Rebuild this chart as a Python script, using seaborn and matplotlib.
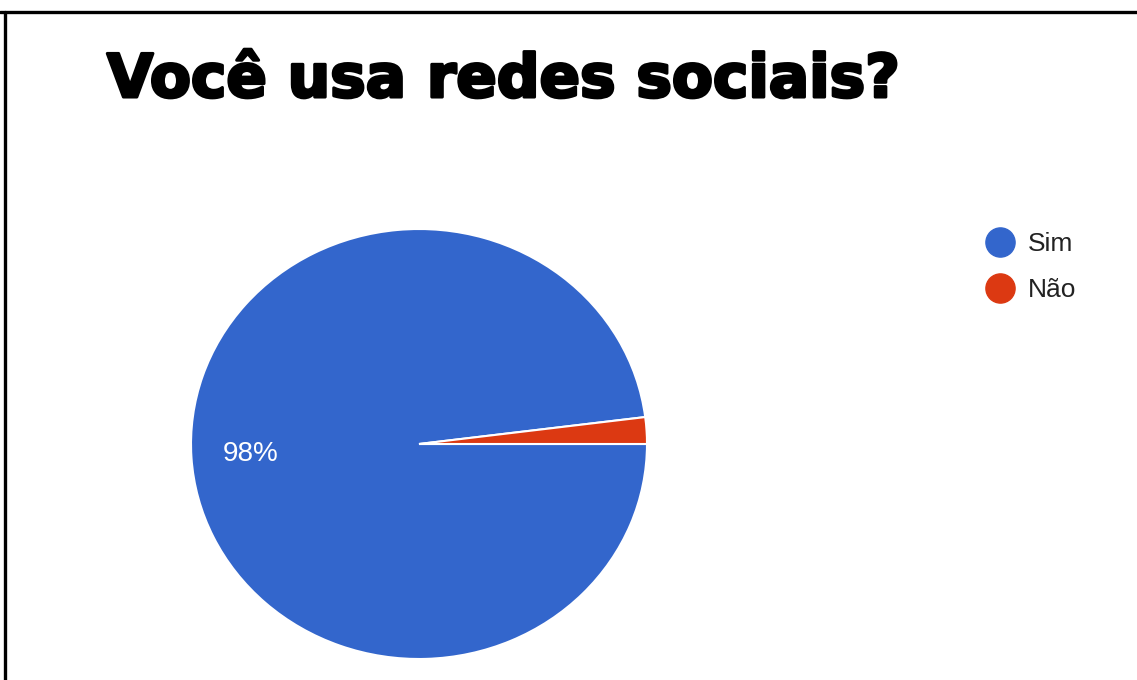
import matplotlib
matplotlib.use("Agg")
import matplotlib.pyplot as plt
from matplotlib.lines import Line2D
import matplotlib.patheffects as pe
import seaborn as sns

# Survey answers
answers = ["Sim", "Não"]
counts = [98, 2]
title = "Você usa redes sociais?"

sns.set_theme(style="white")
plt.rcParams["font.family"] = ["Liberation Sans", "DejaVu Sans"]

colors = sns.color_palette(["#3366CC", "#DC3912"])

W, H = 1137, 680
fig = plt.figure(figsize=(W / 100, H / 100), dpi=100)
fig.patch.set_facecolor("white")

# Pie axes (slightly wider than tall)
ax = fig.add_axes([191 / W, (H - 659) / H, 456 / W, 430 / H])


def pct_label(p):
    return f"{p:.0f}%" if p >= 5 else ""


wedges, texts, autotexts = ax.pie(
    counts,
    colors=colors,
    startangle=360 * counts[1] / sum(counts),
    counterclock=True,
    autopct=pct_label,
    pctdistance=0.74,
    radius=1.0,
    frame=False,
    wedgeprops=dict(edgecolor="white", linewidth=1.5),
    textprops=dict(color="white", fontsize=20),
)
ax.set_xlim(-1, 1)
ax.set_ylim(-1, 1)
ax.set_aspect("auto")
ax.axis("off")

# Title
fig.text(107 / W, 1 - 97 / H, title, fontsize=43, fontweight="bold",
         family=["DejaVu Sans"], color="black", ha="left", va="baseline",
         path_effects=[pe.withStroke(linewidth=2.2, foreground="black")])

# Legend with round markers
handles = [Line2D([], [], marker="o", linestyle="none", markersize=21,
                  markerfacecolor=c, markeredgecolor=c) for c in colors]
leg = fig.legend(handles, answers, loc="upper left",
                 bbox_to_anchor=(984 / W, 1 - 232 / H), frameon=False,
                 fontsize=19, handletextpad=0.45, labelspacing=0.85,
                 borderaxespad=0, borderpad=0, handlelength=1.2)
for t in leg.get_texts():
    t.set_color("#222222")

# Frame lines along top and left edges
fig.add_artist(Line2D([0, 1], [1 - 11.5 / H] * 2, transform=fig.transFigure,
                      color="black", linewidth=2.4))
fig.add_artist(Line2D([4.5 / W] * 2, [0, 1 - 11.5 / H], transform=fig.transFigure,
                      color="black", linewidth=2.4))

fig.savefig("out.png", dpi=100, facecolor="white")
